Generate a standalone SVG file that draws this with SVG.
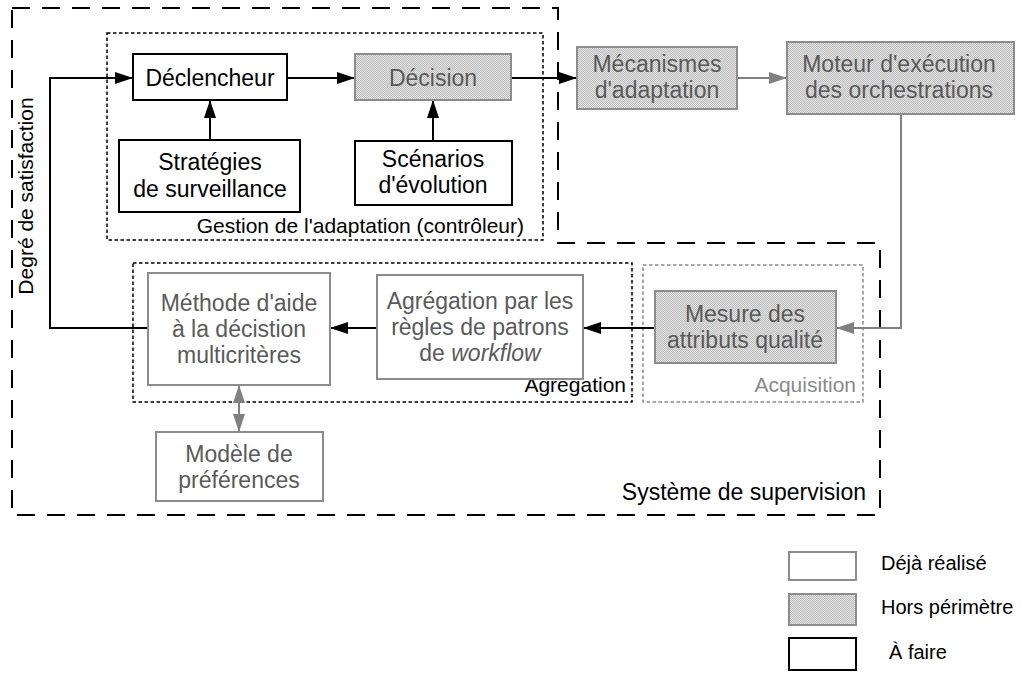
<svg xmlns="http://www.w3.org/2000/svg" width="1023" height="675" viewBox="0 0 1023 675">
<style>
text{font-family:"Liberation Sans",Arial,sans-serif;}
.t{font-size:23px;text-anchor:middle;fill:#000;}
.tg{font-size:23px;text-anchor:middle;fill:#5a5a5a;}
.lbl{font-size:21px;text-anchor:end;fill:#000;}
.lblg{font-size:21px;text-anchor:end;fill:#8a8a8a;}
.bk{fill:#fff;stroke:#000;stroke-width:2;}
.gw{fill:#fff;stroke:#8c8c8c;stroke-width:2;}
.gp{fill:url(#dots);stroke:#8c8c8c;stroke-width:2;}
.ln{fill:none;stroke:#000;stroke-width:2;}
.lng{fill:none;stroke:#808080;stroke-width:2;}
.dashed{fill:none;stroke:#000;stroke-width:2;stroke-dasharray:18 12;}
.dotted{fill:none;stroke:#000;stroke-width:1.5;stroke-dasharray:3.5 2.5;}
.dottedg{fill:none;stroke:#8a8a8a;stroke-width:1.5;stroke-dasharray:3.5 2.5;}
</style>
<defs>
<pattern id="dots" width="2" height="2" patternUnits="userSpaceOnUse">
<rect width="2" height="2" fill="#e4e4e4"/>
<rect width="1" height="1" fill="#bcbcbc"/>
<rect x="1" y="1" width="1" height="1" fill="#bcbcbc"/>
</pattern>
<marker id="ab" viewBox="0 0 18 12" refX="18" refY="6" markerWidth="18" markerHeight="12" markerUnits="userSpaceOnUse" orient="auto-start-reverse"><path d="M0,0 L18,6 L0,12 z" fill="#000"/></marker>
<marker id="ag" viewBox="0 0 18 12" refX="18" refY="6" markerWidth="18" markerHeight="12" markerUnits="userSpaceOnUse" orient="auto-start-reverse"><path d="M0,0 L18,6 L0,12 z" fill="#808080"/></marker>
</defs>
<rect width="1023" height="675" fill="#fff"/>

<g id="zones">
<path class="dashed" d="M12,8 H558 V243 H880 V515 H12 Z"/>
<rect class="dotted" x="107" y="33" width="436" height="207"/>
<text class="lbl" x="524" y="233">Gestion de l'adaptation (contrôleur)</text>
<rect class="dotted" x="133" y="263" width="499" height="139"/>
<text class="lbl" x="626" y="392">Agrégation</text>
<rect class="dottedg" x="643" y="265" width="220" height="137"/>
<text class="lblg" x="856" y="392">Acquisition</text>
<text style="font-size:23px;text-anchor:end;" x="866" y="500">Système de supervision</text>
<text style="font-size:21px;text-anchor:middle;" transform="translate(33,196) rotate(-90)">Degré de satisfaction</text>
</g>

<g id="connectors">
<path class="ln" d="M148,328 H50 V78 H133" marker-end="url(#ab)"/>
<path class="ln" d="M287,78 H355" marker-end="url(#ab)"/>
<path class="ln" d="M511,78 H577" marker-end="url(#ab)"/>
<path class="ln" d="M210,140 V100" marker-end="url(#ab)"/>
<path class="ln" d="M433,141 V100" marker-end="url(#ab)"/>
<path class="lng" d="M737,78 H787" marker-end="url(#ag)"/>
<path class="lng" d="M901,114 V328 H836" marker-end="url(#ag)"/>
<path class="ln" d="M655,328 H583" marker-end="url(#ab)"/>
<path class="ln" d="M377,328 H330" marker-end="url(#ab)"/>
<path class="lng" d="M239,385 V432" marker-start="url(#ag)" marker-end="url(#ag)"/>
</g>

<g id="declencheur">
<rect class="bk" x="133" y="54" width="154" height="46"/>
<text class="t" x="210" y="86">Déclencheur</text>
</g>
<g id="decision">
<rect class="gp" x="355" y="54" width="156" height="46"/>
<text class="tg" x="433" y="86">Décision</text>
</g>
<g id="strategies">
<rect class="bk" x="119" y="140" width="181" height="72"/>
<text class="t" x="210" y="170">Stratégies</text>
<text class="t" x="210" y="197">de surveillance</text>
</g>
<g id="scenarios">
<rect class="bk" x="355" y="141" width="157" height="64"/>
<text class="t" x="433" y="167">Scénarios</text>
<text class="t" x="433" y="193">d'évolution</text>
</g>
<g id="mecanismes">
<rect class="gp" x="577" y="47" width="160" height="62"/>
<text class="tg" x="657" y="72">Mécanismes</text>
<text class="tg" x="657" y="98">d'adaptation</text>
</g>
<g id="moteur">
<rect class="gp" x="787" y="42" width="227" height="72"/>
<text class="tg" x="899" y="72">Moteur d'exécution</text>
<text class="tg" x="899" y="98">des orchestrations</text>
</g>
<g id="mesure">
<rect class="gp" x="655" y="291" width="181" height="72"/>
<text class="tg" x="745" y="322">Mesure des</text>
<text class="tg" x="745" y="348">attributs qualité</text>
</g>
<g id="agregation">
<rect class="gw" x="377" y="275" width="206" height="104"/>
<text class="tg" x="480" y="309">Agrégation par les</text>
<text class="tg" x="480" y="335">règles de patrons</text>
<text class="tg" x="480" y="361">de <tspan font-style="italic">workflow</tspan></text>
</g>
<g id="methode">
<rect class="gw" x="148" y="273" width="182" height="112"/>
<text class="tg" x="239" y="311">Méthode d'aide</text>
<text class="tg" x="239" y="337">à la décistion</text>
<text class="tg" x="239" y="363">multicritères</text>
</g>
<g id="modele">
<rect class="gw" x="156" y="432" width="167" height="69"/>
<text class="tg" x="239" y="462">Modèle de</text>
<text class="tg" x="239" y="488">préférences</text>
</g>

<g id="legend">
<rect class="gw" x="789" y="552" width="67" height="28"/>
<text x="881" y="570" style="font-size:20px;">Déjà réalisé</text>
<rect class="gp" x="789" y="594" width="67" height="31"/>
<text x="881" y="614" style="font-size:20px;">Hors périmètre</text>
<rect class="bk" x="789" y="638" width="67" height="32"/>
<text x="889" y="659" style="font-size:20px;">À faire</text>
</g>
</svg>
